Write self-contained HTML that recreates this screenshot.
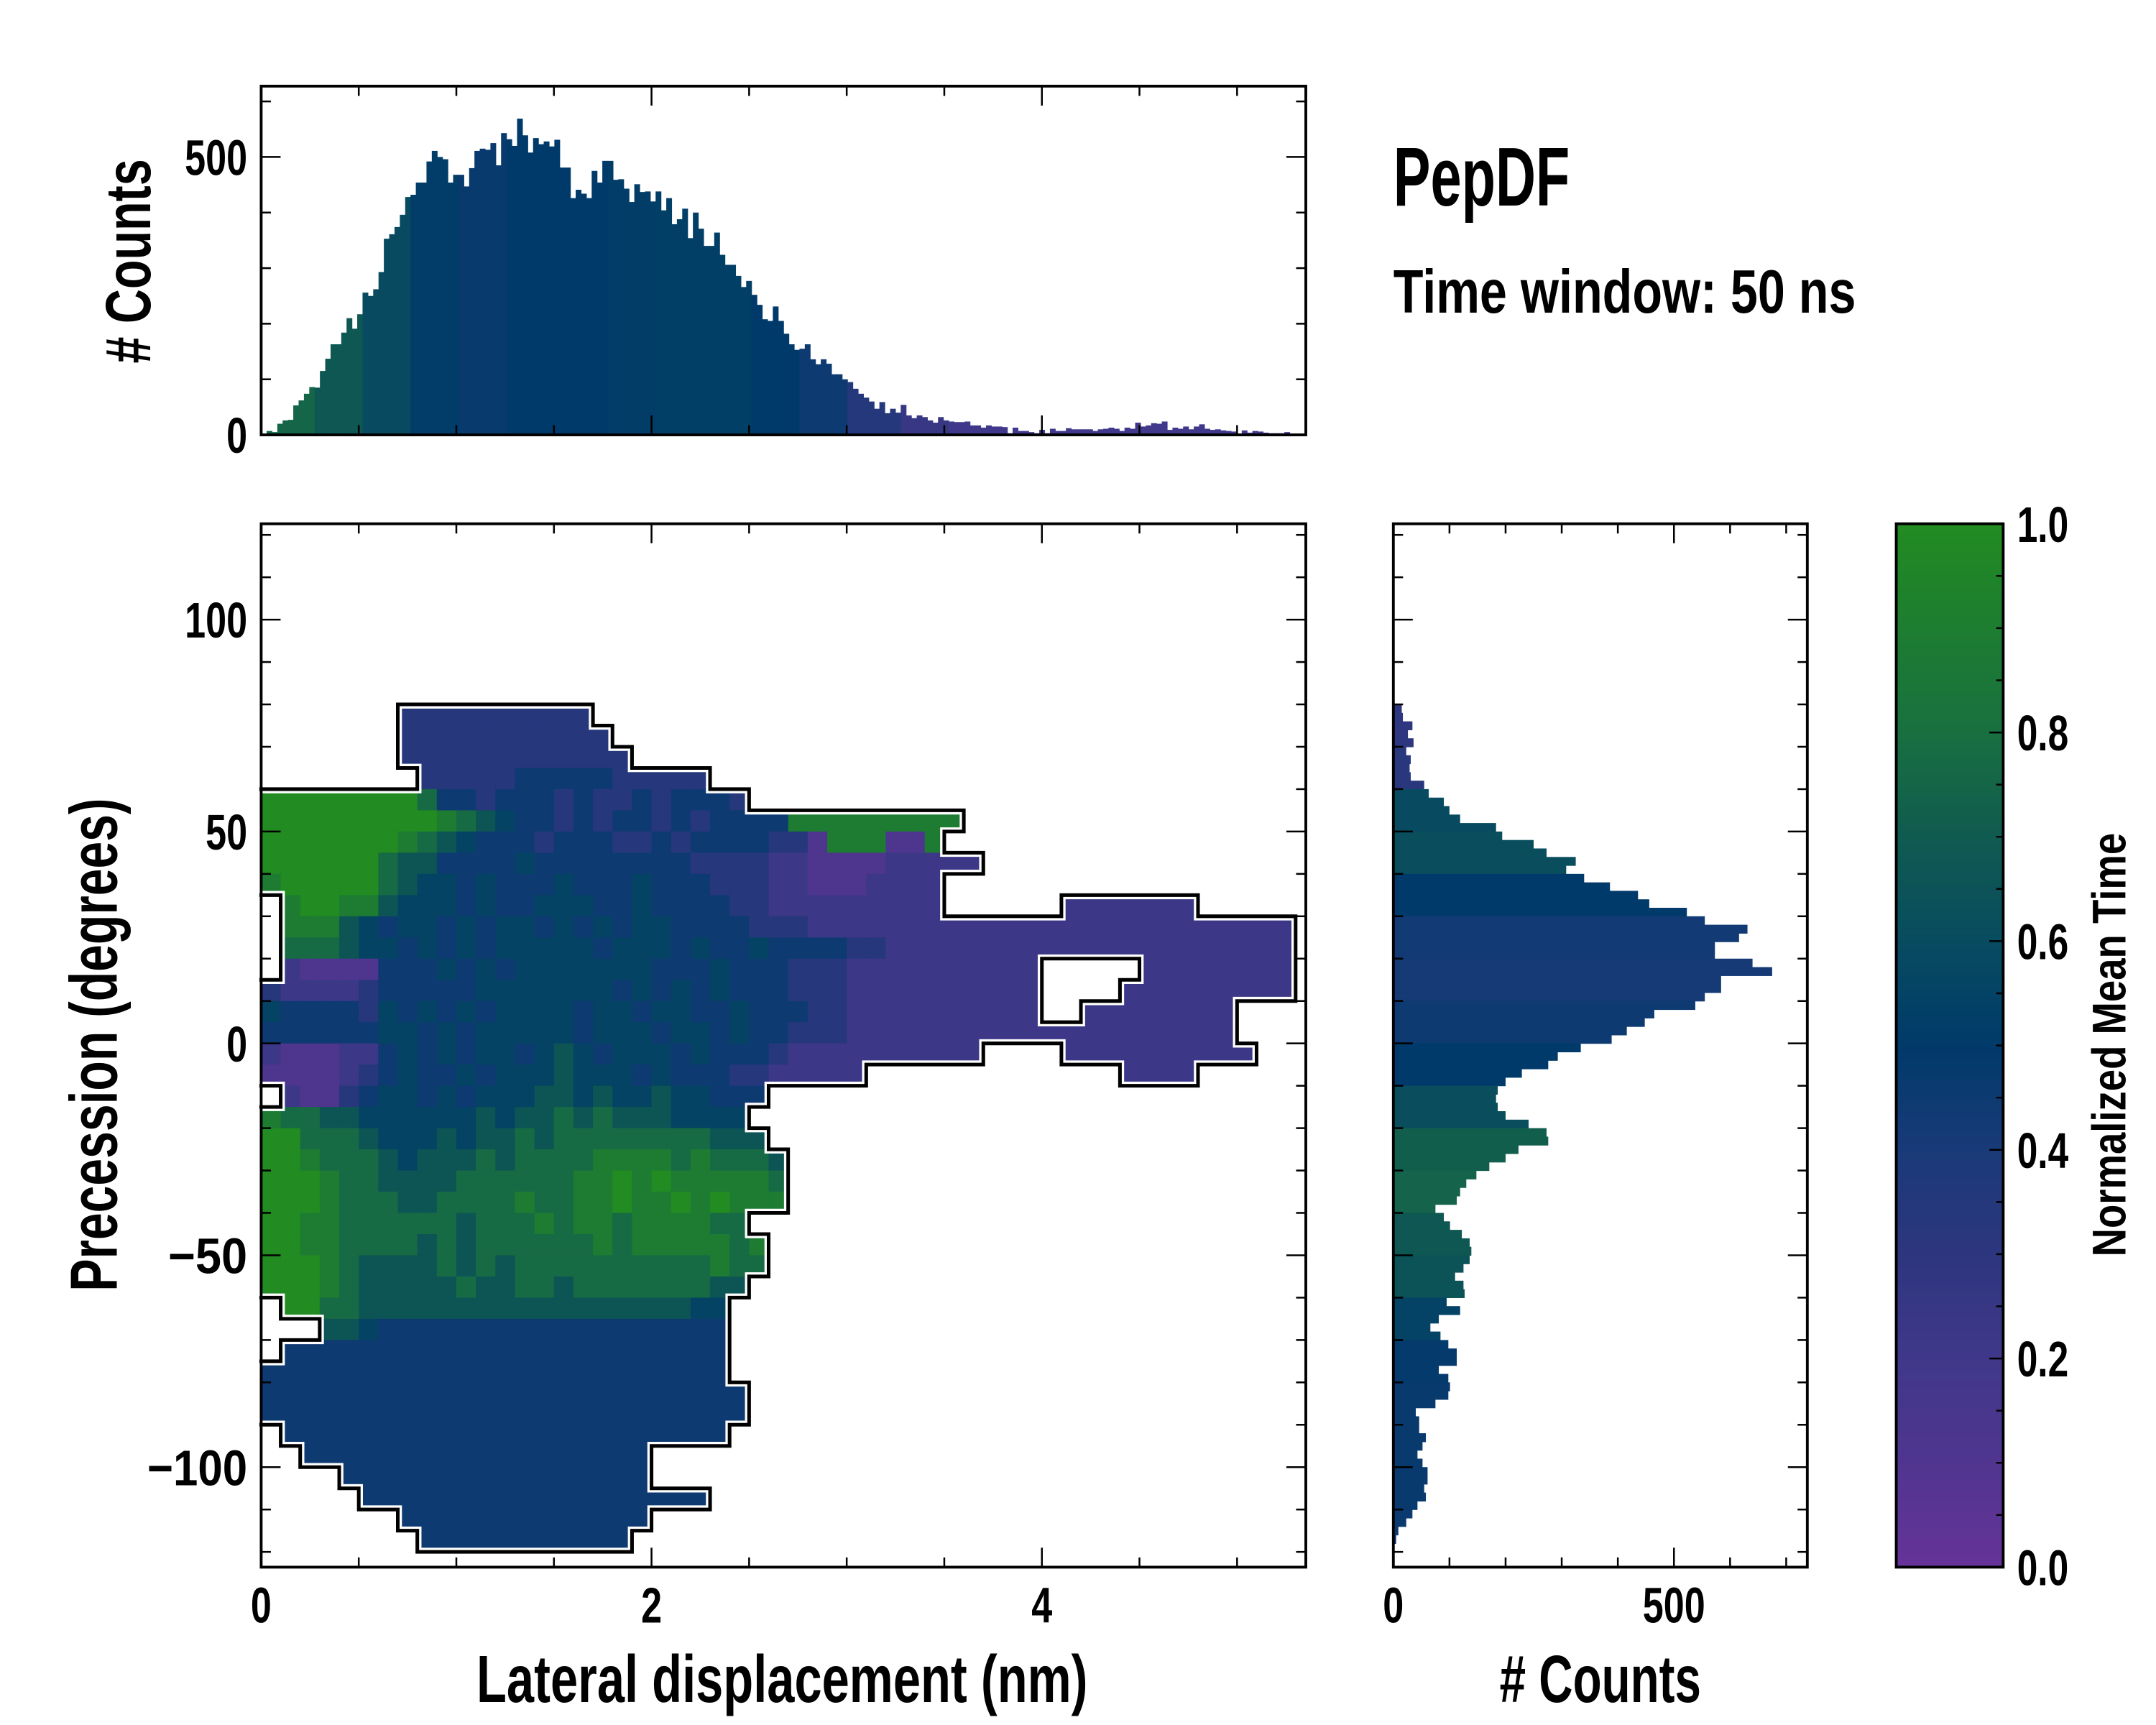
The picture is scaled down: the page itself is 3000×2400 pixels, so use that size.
<!DOCTYPE html>
<html><head><meta charset="utf-8">
<style>
html,body{margin:0;padding:0;background:#fff;}
svg{display:block;}
text{font-family:"Liberation Sans Narrow","Liberation Sans",sans-serif;font-weight:bold;fill:#000;}
</style></head>
<body>
<svg id="fig" xmlns="http://www.w3.org/2000/svg" width="3000" height="2400" viewBox="0 0 1552 1241.6">
<g id="heat"></g>
<g id="cont"></g>
<g id="toph"></g>
<g id="righth"></g>
<g id="cbar"></g>
<g id="axes"></g>
<g id="labels">
<text x="1003" y="148" font-size="60" textLength="127" lengthAdjust="spacingAndGlyphs">PepDF</text>
<text x="1003" y="225" font-size="44" textLength="333" lengthAdjust="spacingAndGlyphs">Time window: 50 ns</text>
<text transform="translate(108,188) rotate(-90)" text-anchor="middle" font-size="46" textLength="147" lengthAdjust="spacingAndGlyphs"># Counts</text>
<text transform="translate(84,752) rotate(-90)" text-anchor="middle" font-size="48" textLength="355" lengthAdjust="spacingAndGlyphs">Precession (degrees)</text>
<text x="563" y="1225" text-anchor="middle" font-size="48" textLength="440" lengthAdjust="spacingAndGlyphs">Lateral displacement (nm)</text>
<text x="1152" y="1225" text-anchor="middle" font-size="48" textLength="145" lengthAdjust="spacingAndGlyphs"># Counts</text>
<text transform="translate(1530,752) rotate(-90)" text-anchor="middle" font-size="34" textLength="305" lengthAdjust="spacingAndGlyphs">Normalized Mean Time</text>
</g>
</svg>
<script>
// ---------- data ----------
const topBinStart = 0.028;
const topBinWidth = 0.0273;
const topCounts = [7,5,20,26,27,53,62,74,86,85,115,137,163,163,184,210,191,217,256,250,262,293,353,361,374,396,428,432,454,454,492,511,500,496,454,468,468,447,480,511,515,513,525,485,543,532,520,569,539,508,534,523,528,519,531,481,481,426,441,434,426,475,454,493,493,459,460,443,419,451,437,438,420,438,404,426,379,388,407,354,400,371,340,340,364,324,306,306,286,266,277,252,234,208,205,231,205,182,163,153,155,163,136,127,136,128,109,109,100,95,83,74,67,60,47,59,39,47,40,54,35,30,35,32,26,22,32,26,24,23,23,24,17,17,13,17,15,15,14,3,13,7,7,5,3,9,3,11,7,7,12,10,10,10,10,7,10,11,13,11,7,13,11,22,15,17,21,20,24,9,13,11,15,10,15,19,11,9,10,8,7,6,2,8,4,7,6,4,3,3,3,5];
const topMeanStep = 0.25;
const topMean = [0.75,0.68,0.6,0.52,0.47,0.5,0.5,0.52,0.53,0.53,0.5,0.45,0.35,0.25,0.2,0.2,0.2,0.2,0.2,0.2,0.2,0.2];
const rightBinTop = 80;
const rightBinWidth = 2;
const rightCounts = [15,17,34,26,36,23,31,29,31,55,63,90,100,119,183,194,250,273,325,308,340,386,436,456,523,555,631,616,573,573,640,675,584,584,555,538,465,448,416,389,334,293,276,229,200,186,183,186,200,241,273,276,223,200,171,148,130,119,113,75,90,101,122,136,139,136,125,110,125,127,95,119,81,66,84,98,113,113,81,98,101,98,75,40,46,46,58,52,43,52,61,61,55,58,43,34,23,9,5,1];
const rightMeanStep = 10;
const rightMean = [0.3,0.32,0.6,0.62,0.5,0.43,0.42,0.45,0.5,0.62,0.72,0.74,0.68,0.65,0.55,0.48,0.47,0.47,0.47,0.46];
// heatmap: rows of 5 deg from 80 down; cols of 0.1 nm from 0; digit d -> mean time d/9; '.' empty
const heatRowTop = 80, heatRowStep = 5, heatColStep = 0.1;
const heatRows = [
".......3333333333",
".......33333333333",
".......333333333333",
"........333334444433333",
"9999999974434443433434443",
"999999999876544343443434444888888888",
"99999998765444344433434444331888118",
"9999997664444544444444333322111122222",
"89999976554544454445444333221112222",
".8998865554544555445444433222222222......2222222",
".8886545545455454545544443332222222222222222222222222",
".7776554545455555455545445444433222222222222222222222",
".211114445454555555544454443332222222222.....22222222",
"3222234444455555554545454443332222222222....222222222",
"5444435454545555455455445444332222222222..22222222",
"44444455454555554555455454433322222222222222222222",
"2111224545455456545554544432222222222....2222222222",
"1111234544545556555454443322222.............2222",
".2113455454555665655655444",
"8776655555565667676665555",
"99777655565667677777777666",
"998777656667677778888787776",
"999877666677777788989888887",
"999877766777787788988989888",
"9988777777677787887888877",
"99887777676777777878888878",
"99987666676767777777777877",
"9998766666766776777777766",
".99776666666666666666655",
"...665444444444444444444",
".44444444444444444444444",
"444444444444444444444444",
"4444444444444444444444444",
"4444444444444444444444444",
".44444444444444444444444",
"..444444444444444444",
"....4444444444444444",
".....444444444444444444",
".......4444444444444",
"........44444444444"
];
const cbTicks = [0.0,0.2,0.4,0.6,0.8,1.0];
const xTicks = [0,2,4];
const yTicks = [100,50,0,-50,-100];
const topYTicks = [0,500];
const rightXTicks = [0,500];

// ---------- scales ----------
const X = nm => 188 + 140.5*nm;
const Y = deg => 751 - 3.05*deg;
const TY = c => 313 - 0.4*c;
const RX = c => 1003 + 0.404*c;
const CY = v => 1128 - 751*v;

const stops = [[0,[102,51,153]],[0.1,[80,53,143]],[0.2,[64,56,138]],[0.3,[45,54,126]],[0.4,[26,58,120]],[0.5,[0,58,106]],[0.6,[8,75,96]],[0.7,[16,90,80]],[0.8,[25,112,64]],[0.9,[29,125,48]],[1,[34,139,34]]];
function cmap(v){v=Math.max(0,Math.min(1,v));for(let i=1;i<stops.length;i++){if(v<=stops[i][0]){const a=stops[i-1],b=stops[i],t=(v-a[0])/(b[0]-a[0]);const c=a[1].map((x,k)=>Math.round(x+(b[1][k]-x)*t));return `rgb(${c[0]},${c[1]},${c[2]})`;}}return 'rgb(34,139,34)';}
const NS='http://www.w3.org/2000/svg';
function mk(tag,attrs,parent){const e=document.createElementNS(NS,tag);for(const k in attrs)e.setAttribute(k,attrs[k]);parent.appendChild(e);return e;}

// ---------- heatmap ----------
const heat=document.getElementById('heat');
const grid=heatRows.map(r=>r.split(''));
const filled=(r,c)=>r>=0&&r<grid.length&&c>=0&&grid[r][c]!==undefined&&grid[r][c]!=='.';
grid.forEach((row,r)=>{row.forEach((ch,c)=>{if(ch==='.')return;
  const d0=heatRowTop-heatRowStep*r, d1=d0-heatRowStep;
  const el=mk('rect',{x:X(c*heatColStep),y:Y(d0),width:X((c+1)*heatColStep)-X(c*heatColStep)+0.4,height:Y(d1)-Y(d0)+0.4,fill:cmap(parseInt(ch)/9)},heat);
  
  
});});
// outer contour from grid boundary
const cont=document.getElementById('cont');
let segs='';
grid.forEach((row,r)=>{row.forEach((ch,c)=>{if(ch==='.')return;
  const x0=X(c*heatColStep),x1=X((c+1)*heatColStep),y0=Y(heatRowTop-heatRowStep*r),y1=Y(heatRowTop-heatRowStep*(r+1));
  if(!filled(r-1,c))segs+=`M${x0},${y0}H${x1}`;
  if(!filled(r+1,c))segs+=`M${x0},${y1}H${x1}`;
  if(!filled(r,c-1)&&c>0)segs+=`M${x0},${y0}V${y1}`;
  if(!filled(r,c+1))segs+=`M${x1},${y0}V${y1}`;
});});
const halo=mk('path',{d:segs,stroke:'#fff',"stroke-width":6,fill:'none',"stroke-linecap":'square'},cont);


const line=mk('path',{d:segs,stroke:'#000',"stroke-width":2.6,fill:'none',"stroke-linecap":'square'},cont);



// ---------- top histogram ----------
const toph=document.getElementById('toph');
topCounts.forEach((v,i)=>{const x0=topBinStart+i*topBinWidth;
  const mi=Math.min(topMean.length-1,Math.floor(x0/topMeanStep));
  const el=mk('rect',{x:X(x0),y:TY(v),width:X(x0+topBinWidth)-X(x0)+0.3,height:TY(0)-TY(v),fill:cmap(topMean[mi])},toph);
  
  
});
// ---------- right histogram ----------
const rh=document.getElementById('righth');
rightCounts.forEach((v,i)=>{const d0=rightBinTop-i*rightBinWidth;
  const mi=Math.min(rightMean.length-1,Math.floor((rightBinTop-d0)/rightMeanStep));
  const el=mk('rect',{x:RX(0),y:Y(d0),width:RX(v)-RX(0),height:Y(d0-rightBinWidth)-Y(d0)+0.3,fill:cmap(rightMean[mi])},rh);
  
  
});
// ---------- colorbar ----------
const cb=document.getElementById('cbar');
for(let i=0;i<150;i++){const v0=i/150,v1=(i+1)/150;
  const el=mk('rect',{x:1365,y:CY(v1),width:77,height:CY(v0)-CY(v1)+0.5,fill:cmap((v0+v1)/2)},cb);
  
  
}
// ---------- axes ----------
const ax=document.getElementById('axes');
function frame(x,y,w,h,name){const el=mk('rect',{x:x,y:y,width:w,height:h,fill:'none',stroke:'#000',"stroke-width":2},ax);}
function tk(x1,y1,x2,y2){const el=mk('line',{x1:x1,y1:y1,x2:x2,y2:y2,stroke:'#000',"stroke-width":1.3},ax);}
function lbl(x,y,t,anchor,name){
  let w=0;for(const ch of t){w+= ch==='.'?7 : (ch==='\u2212'?27:15);}
  const el=mk('text',{x:x,y:y,"text-anchor":anchor,"font-size":36,textLength:w,lengthAdjust:'spacingAndGlyphs'},ax);
  el.textContent=t;return el;}
frame(188,377,752,751,'main-plot-frame');
frame(188,62,752,251,'top-hist-frame');
frame(1003,377,298,751,'right-hist-frame');
frame(1365,377,77,751,'colorbar-frame');
// x ticks main & top hist
for(let k=0;k<=10;k++){const v=k*0.5,x=X(v),maj=(v%2===0);const L=maj?14:7;
  tk(x,1128,x,1128-L);tk(x,377,x,377+L);tk(x,313,x,313-L);tk(x,62,x,62+L);}
// y ticks main & right hist
for(let d=-120;d<=120;d+=10){const y=Y(d),maj=(d%50===0);const L=maj?14:7;
  tk(188,y,188+L,y);tk(940,y,940-L,y);tk(1003,y,1003+L,y);tk(1301,y,1301-L,y);}
// top hist y ticks
for(let c=0;c<=600;c+=100){const y=TY(c),L=(c%500===0)?14:7;tk(188,y,188+L,y);tk(940,y,940-L,y);}
// right hist x ticks
for(let c=0;c<=700;c+=100){const x=RX(c),L=(c%500===0)?14:7;tk(x,1128,x,1128-L);tk(x,377,x,377+L);}
// colorbar ticks
for(let i=0;i<=20;i++){const v=i*0.05,y=CY(v),L=(i%4===0)?10:5;tk(1442,y,1442-L,y);}
// tick labels
xTicks.forEach(v=>lbl(X(v),1168,String(v),'middle','x-tick-label'));
yTicks.forEach(v=>lbl(178,Y(v)+13,(v<0?'\u2212':'')+Math.abs(v),'end','y-tick-label'));
topYTicks.forEach(v=>lbl(178,TY(v)+13,String(v),'end','top-y-tick-label'));
rightXTicks.forEach(v=>lbl(RX(v),1168,String(v),'middle','right-x-tick-label'));
cbTicks.forEach(v=>lbl(1452,CY(v)+13,v.toFixed(1),'start','colorbar-tick-label'));
</script>
</body></html>
